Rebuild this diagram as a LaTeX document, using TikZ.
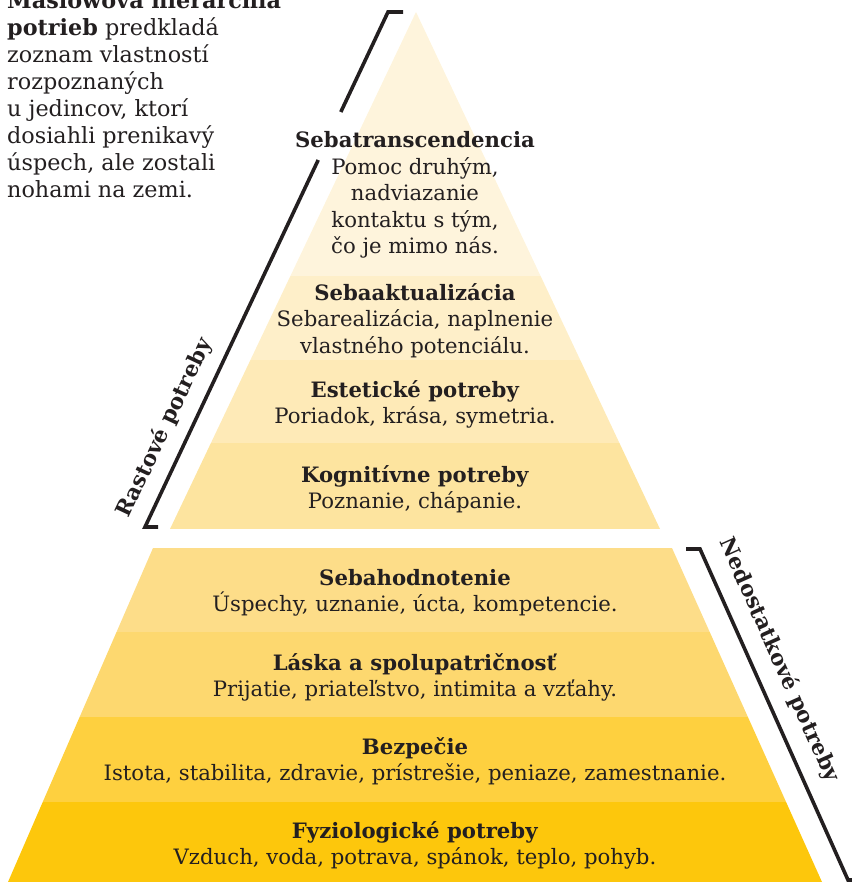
\documentclass[tikz,border=0pt]{standalone}
\usepackage{fontspec}
\setmainfont{DejaVu Serif}
\usetikzlibrary{positioning}
\definecolor{inkdark}{HTML}{231F20}
\definecolor{lvlA}{HTML}{FEF4DC}
\definecolor{lvlB}{HTML}{FEEFC9}
\definecolor{lvlC}{HTML}{FEEAB7}
\definecolor{lvlD}{HTML}{FDE49F}
\definecolor{lvlE}{HTML}{FDDD89}
\definecolor{lvlF}{HTML}{FDD86F}
\definecolor{lvlG}{HTML}{FED03F}
\definecolor{lvlH}{HTML}{FDC70C}

\begin{document}
\begin{tikzpicture}[
  x=1pt, y=-1pt,
  lvl/.style={align=center, inner sep=0pt, text=inkdark, font=\fontsize{21.2}{26.4}\selectfont},
  side/.style={inner sep=0pt, text=inkdark, font=\fontsize{21.6}{24}\selectfont\bfseries},
  intro/.style={align=left, inner sep=0pt, text=inkdark, font=\fontsize{22.3}{27.1}\selectfont},
  brace/.style={line width=3.6pt, inkdark}
]
  \useasboundingbox (0,0) rectangle (851,882);

  % growth needs (upper pyramid)
  \begin{scope}
    \clip (416,12) -- (660,529) -- (170,529) -- cycle;
    \fill[lvlA] (0,0)   rectangle (851,276);
    \fill[lvlB] (0,276) rectangle (851,360);
    \fill[lvlC] (0,360) rectangle (851,443);
    \fill[lvlD] (0,443) rectangle (851,529);
  \end{scope}

  % deficiency needs (lower pyramid)
  \begin{scope}
    \clip (153,548) -- (672,548) -- (822,882) -- (8,882) -- cycle;
    \fill[lvlE] (0,548) rectangle (851,632);
    \fill[lvlF] (0,632) rectangle (851,717);
    \fill[lvlG] (0,717) rectangle (851,802);
    \fill[lvlH] (0,802) rectangle (851,882);
  \end{scope}

  \node[intro, anchor=north west] (intro) at (7,-9) {%
    \textbf{Maslowova hierarchia}\\
    \textbf{potrieb} predkladá\\
    zoznam vlastností\\
    rozpoznaných\\
    u jedincov, ktorí\\
    dosiahli prenikavý\\
    úspech, ale zostali\\
    nohami na zemi.};

  \node[lvl] (transc) at (415,195) {\textbf{Sebatranscendencia}\\Pomoc druhým,\\nadviazanie\\kontaktu s tým,\\čo je mimo nás.};
  \node[lvl] (aktual) at (415,320.5) {\textbf{Sebaaktualizácia}\\Sebarealizácia, naplnenie\\vlastného potenciálu.};
  \node[lvl] (estet)  at (415,404.5) {\textbf{Estetické potreby}\\Poriadok, krása, symetria.};
  \node[lvl] (kogn)   at (415,489.5) {\textbf{Kognitívne potreby}\\Poznanie, chápanie.};
  \node[lvl] (hodn)   at (415,592.5) {\textbf{Sebahodnotenie}\\Úspechy, uznanie, úcta, kompetencie.};
  \node[lvl] (laska)  at (415,677.5) {\textbf{Láska a spolupatričnosť}\\Prijatie, priateľstvo, intimita a vzťahy.};
  \node[lvl] (bezp)   at (415,761)   {\textbf{Bezpečie}\\Istota, stabilita, zdravie, prístrešie, peniaze, zamestnanie.};
  \node[lvl] (fyzio)  at (415,845.5) {\textbf{Fyziologické potreby}\\Vzduch, voda, potrava, spánok, teplo, pohyb.};

  % brackets
  \coordinate (gTop) at (388,12);
  \coordinate (gCutA) at (340.8,112);
  \coordinate (gCutB) at (318.2,160);
  \coordinate (gBot) at (145,527);
  \draw[brace] (403,12) -- (gTop) -- (gCutA);
  \draw[brace] (gCutB) -- (gBot) -- (158,527);
  \node[side, rotate=64.7] (grow) at (165,428) {Rastové potreby};

  \coordinate (nTop) at (700,549);
  \coordinate (nBot) at (848,880);
  \draw[brace] (686,549) -- (nTop) -- (nBot) -- (862,880);
  \node[side, rotate=-65.9] (lack) at (779,660) {Nedostatkové potreby};
\end{tikzpicture}
\end{document}
